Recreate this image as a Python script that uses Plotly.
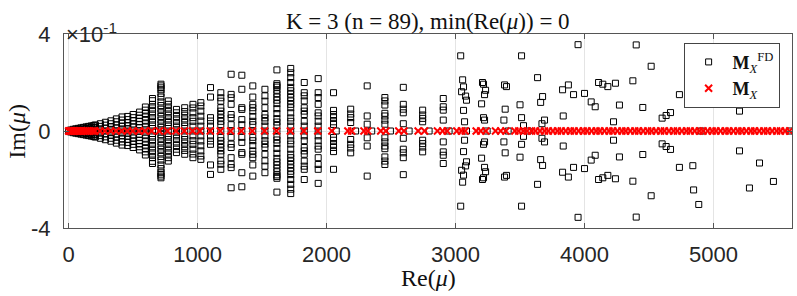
import plotly.graph_objects as go

# ---------------- data ----------------
# M_X^FD : columns of complex-conjugate eigenvalues (Re, upper-half Im values)
FD_COL_RE = [15, 35, 55, 75, 95, 115, 135, 155, 175, 195, 207, 246, 285, 328, 370, 414, 458, 500,
             550, 595, 650, 716, 773, 836, 900, 964, 1025, 1100, 1180, 1260, 1343, 1428, 1522,
             1615, 1722, 1827, 1935, 2054, 2187, 2315, 2452, 2595, 2745, 2905]
FD_COL_IM = [
    [0.004],
    [0.007, 0.002],
    [0.009, 0.004],
    [0.011, 0.005],
    [0.013, 0.006],
    [0.015, 0.008],
    [0.017, 0.010, 0.004],
    [0.019, 0.012, 0.005],
    [0.021, 0.014, 0.007],
    [0.023, 0.015, 0.008],
    [0.025, 0.016, 0.007],
    [0.030, 0.019, 0.009],
    [0.036, 0.024, 0.012],
    [0.042, 0.030, 0.018, 0.007],
    [0.050, 0.038, 0.025, 0.012],
    [0.058, 0.045, 0.032, 0.019, 0.008],
    [0.060, 0.047, 0.034, 0.021, 0.009],
    [0.068, 0.055, 0.042, 0.029, 0.016],
    [0.078, 0.065, 0.052, 0.039, 0.026, 0.013],
    [0.099, 0.086, 0.072, 0.058, 0.044, 0.030, 0.016],
    [0.134, 0.125, 0.110, 0.095, 0.080, 0.065, 0.050, 0.035, 0.020],
    [0.193, 0.186, 0.178, 0.170, 0.155, 0.140, 0.120, 0.105, 0.090, 0.075, 0.060, 0.045, 0.030, 0.015],
    [0.124, 0.110, 0.095, 0.080, 0.065, 0.050, 0.035, 0.020],
    [0.089, 0.075, 0.060, 0.045, 0.030, 0.015],
    [0.096, 0.080, 0.065, 0.050, 0.035, 0.020],
    [0.110, 0.095, 0.075, 0.055, 0.040, 0.020],
    [0.117, 0.103, 0.082, 0.061, 0.041, 0.020],
    [0.179, 0.140, 0.055, 0.041, 0.020],
    [0.158, 0.137, 0.123, 0.096, 0.082, 0.068, 0.054, 0.040, 0.026],
    [0.234, 0.151, 0.137, 0.110, 0.068, 0.054, 0.026],
    [0.230, 0.172, 0.096, 0.089, 0.047, 0.026],
    [0.186, 0.140, 0.110, 0.096, 0.082, 0.060, 0.040, 0.026],
    [0.172, 0.145, 0.123, 0.096, 0.068, 0.054, 0.040, 0.020],
    [0.252, 0.195, 0.188, 0.181, 0.168, 0.154, 0.140, 0.127, 0.113, 0.092, 0.072, 0.051, 0.037, 0.023],
    [0.258, 0.240, 0.220, 0.200, 0.180, 0.166, 0.152, 0.138, 0.124, 0.110, 0.096, 0.075, 0.054, 0.040, 0.020],
    [0.200, 0.158, 0.145, 0.124, 0.096, 0.082, 0.068, 0.040, 0.020],
    [0.216, 0.158, 0.138, 0.110, 0.075, 0.062, 0.040, 0.020],
    [0.158, 0.085, 0.068, 0.055, 0.038, 0.027],
    [0.090, 0.070, 0.055, 0.035],
    [0.186, 0.062, 0.028],
    [0.138, 0.124, 0.107, 0.073, 0.062, 0.045, 0.028],
    [0.180, 0.110, 0.090, 0.075, 0.030],
    [0.086, 0.066, 0.052, 0.038],
    [0.134, 0.100, 0.086, 0.045],
]
# M_X^FD : scattered conjugate pairs at large Re (upper-half Im)
FD_SC_RE = [3040, 3055, 3062, 3047, 3078, 3085, 3062, 3070,
            3209, 3217, 3233, 3225, 3202, 3217, 3225,
            3380, 3395, 3385, 3375,
            3512, 3500, 3512, 3527,
            3636, 3675, 3660, 3690, 3670,
            3830, 3875, 3915, 3835, 3950, 4000,
            4052, 4083, 4109, 4142, 4181, 4225, 4240, 4271, 4375, 4401, 4452, 4517,
            4602, 4633, 4667, 4736, 4840, 4846, 4886, 5202, 5279, 5357, 5465]
FD_SC_IM = [0.310, 0.211, 0.182, 0.162, 0.144, 0.127, 0.085, 0.038,
            0.200, 0.193, 0.168, 0.150, 0.112, 0.055, 0.045,
            0.190, 0.183, 0.090, 0.045,
            0.310, 0.108, 0.055, 0.022,
            0.220, 0.142, 0.118, 0.045, 0.030,
            0.170, 0.190, 0.150, 0.062, 0.356, 0.155,
            0.120, 0.100, 0.200, 0.193, 0.183, 0.038, 0.197, 0.107, 0.207, 0.355, 0.097, 0.267,
            0.053, 0.064, 0.076, 0.150, 0.143, 0.243, 0.303, 0.082, 0.235, 0.132, 0.208]
# M_X^FD : real eigenvalues
FD_REAL_RE = [0, 207, 246, 285, 328, 370, 414, 458, 500, 550, 595, 650, 716, 773, 836, 900, 964,
              1025, 1100, 1180, 1260, 1343, 1428, 1522, 1615, 1722, 1827, 1935, 2075, 2225, 2350,
              2495, 2640, 2795, 2950, 3085, 3245, 3408, 3563, 4905, 5592]

# M_X : real eigenvalues
MX_RE = [0, 4, 9, 15, 22, 30, 39, 48, 58, 69, 80, 92, 104, 117, 131, 145, 160, 176, 192,
         204, 243, 281, 326, 367, 411, 455, 496, 545, 591, 643, 703, 767, 832, 897, 961, 1018,
         1098, 1176, 1256, 1339, 1424, 1519, 1612, 1719, 1824, 1932, 2041,
         2165, 2195, 2290, 2320, 2420, 2460, 2560, 2600, 2710, 2760, 2860, 2900, 2935,
         3010, 3045, 3075, 3160, 3195, 3235, 3310, 3350, 3390,
         3460, 3490, 3525, 3555, 3590, 3620, 3655, 3690, 3720, 3755, 3790, 3820, 3855, 3890,
         3920, 3955, 3990, 4020, 4055, 4090, 4120, 4155, 4190, 4220, 4255, 4290, 4320, 4355,
         4390, 4420, 4455, 4490, 4520, 4555, 4590, 4620, 4655, 4690, 4720, 4755, 4790, 4820,
         4855, 4890, 4920, 4955, 4990, 5020, 5055, 5090, 5120, 5155, 5190, 5220, 5255, 5290,
         5320, 5355, 5390, 5420, 5455, 5490, 5520, 5555, 5590]
MX_IM = [0.0] * len(MX_RE)

X_TICKS = [0, 1000, 2000, 3000, 4000, 5000]
Y_TICKS = [-0.4, 0.0, 0.4]
Y_TICKTEXT = ["-4", "0", "4"]

# ---------------- assemble conjugate pairs ----------------
fd_x, fd_y = [], []
for re, ims in zip(FD_COL_RE, FD_COL_IM):
    for v in ims:
        fd_x += [re, re]
        fd_y += [v, -v]
for re, v in zip(FD_SC_RE, FD_SC_IM):
    fd_x += [re, re]
    fd_y += [v, -v]
for re in FD_REAL_RE:
    fd_x.append(re)
    fd_y.append(0.0)

SERIF = "Liberation Serif"
SANS = "Liberation Sans"

fig = go.Figure()
fig.add_trace(go.Scatter(
    x=fd_x, y=fd_y, mode="markers",
    name="<b>M</b><sub><i>X</i></sub><sup>FD</sup>",
    marker=dict(symbol="square-open", size=6, color="black", line=dict(width=1)),
))
fig.add_trace(go.Scatter(
    x=MX_RE, y=MX_IM, mode="markers",
    name="<b>M</b><sub><i>X</i></sub>",
    marker=dict(symbol="x-thin-open", size=7, color="red", line=dict(width=2, color="red")),
))

axis_common = dict(
    automargin=False,
    showline=True, linecolor="#555555", linewidth=1, mirror="ticks",
    ticks="inside", ticklen=5, tickcolor="#555555",
    showgrid=True, gridcolor="#e4e4e4", gridwidth=1, zeroline=False,
    tickfont=dict(family=SANS, size=22, color="#262626"),
)
fig.update_layout(
    width=797, height=296,
    margin=dict(l=64, r=5, t=34, b=68, autoexpand=False),
    paper_bgcolor="white", plot_bgcolor="white",
    showlegend=True,
    legend=dict(
        x=0.983, y=0.955, xanchor="right", yanchor="top",
        bgcolor="white", bordercolor="#444444", borderwidth=1,
        font=dict(family=SERIF, size=18, color="#111111"),
        tracegroupgap=0, itemwidth=38,
    ),
    xaxis=dict(range=[-36, 5609], tickvals=X_TICKS, ticklabelstandoff=7, **axis_common),
    yaxis=dict(range=[-0.4, 0.4], tickvals=Y_TICKS, ticktext=Y_TICKTEXT,
               ticklabelstandoff=8, **axis_common),
    annotations=[
        dict(text="K = 3 (n = 89), min(Re(<i>μ</i>)) = 0", xref="paper", yref="paper",
             x=0.5, y=1.064, xanchor="center", yanchor="middle", showarrow=False,
             font=dict(family=SERIF, size=23, color="#111111")),
        dict(text="×10<sup>-1</sup>", xref="paper", yref="paper",
             x=0.0, y=0.925, xanchor="left", yanchor="bottom", showarrow=False,
             font=dict(family=SANS, size=22, color="#262626")),
        dict(text="Re(<i>μ</i>)", xref="paper", yref="paper",
             x=0.5, y=-0.26, xanchor="center", yanchor="middle", showarrow=False,
             font=dict(family=SERIF, size=24, color="#111111")),
        dict(text="Im(<i>μ</i>)", xref="paper", yref="paper", textangle=-90,
             x=-0.065, y=0.5, xanchor="center", yanchor="middle", showarrow=False,
             font=dict(family=SERIF, size=24, color="#111111")),
    ],
)

fig.write_html("out.html", config={"displayModeBar": False},
               post_script="document.body.style.margin='0';")
